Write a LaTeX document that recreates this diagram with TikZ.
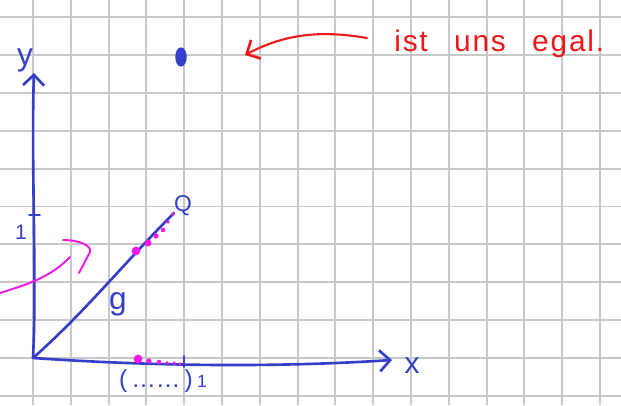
\documentclass[tikz,border=0pt]{standalone}
\usepackage{fontspec}
\setmainfont{Liberation Sans}
\newfontfamily\handfont[LetterSpace=6]{Liberation Sans}
\usetikzlibrary{arrows.meta, positioning, shapes.geometric}
\definecolor{penblue}{RGB}{52,62,200}
\definecolor{penred}{RGB}{238,24,24}
\definecolor{penpink}{RGB}{240,24,230}
\definecolor{gridgray}{RGB}{200,200,200}

\begin{document}
\begin{tikzpicture}[
  x=0.02cm, y=-0.02cm,
  gridline/.style={draw=gridgray, line width=1.1pt},
  pen/.style={draw=#1, line width=1.5pt, line cap=round, line join=round},
  hand/.style={text=#1, inner sep=0pt},
  barb/.style={-{Straight Barb[length=#1, width=12pt, line width=1.5pt]}},
  dot/.style={fill=penpink, circle, inner sep=0pt, minimum size=#1}
]
\useasboundingbox (0,0) rectangle (621,405);

% Grid paper
\foreach \k in {0,...,15}
  \draw[gridline] ({33+37.8*\k},0) -- ({33+37.8*\k},405);
\foreach \k in {0,...,10}
  \draw[gridline] (0,{17+37.9*\k}) -- (621,{17+37.9*\k});

% Axes
\coordinate (O) at (33,358);
\coordinate (xend) at (392,360);
\coordinate (yend) at (34,73);
\draw[pen=penblue, barb=6pt] (O) .. controls (180,368) and (300,366) .. (xend);
\draw[pen=penblue, barb=6pt] (O) .. controls (37,280) and (31,160) .. (yend);
\node[hand=penblue, font=\fontsize{18}{18}\selectfont] (ylab) at (25,60) {y};
\node[hand=penblue, font=\fontsize{17}{17}\selectfont] (xlab) at (412,366) {x};

% Ticks
\coordinate (ty1) at (29,215);
\coordinate (ty2) at (40,215);
\draw[pen=penblue, line width=1.1pt] (ty1) -- (ty2);
\node[hand=penblue, font=\fontsize{12}{12}\selectfont] (one y) at (21,232) {1};
\coordinate (tx1) at (184,356);
\coordinate (tx2) at (184,367);
\draw[pen=penblue, line width=1.1pt] (tx1) -- (tx2);
\node[hand=penblue, font=\fontsize{10}{10}\selectfont] (one x) at (202,381) {1};
\node[hand=penblue, font=\fontsize{14}{14}\selectfont] (interval) at (156,381) {(\,\dots\dots\,)};

% Line g and point Q
\node[hand=penblue, font=\fontsize{13}{13}\selectfont] (Q) at (183,206) {Q};
\coordinate (gend) at (174,213);
\draw[pen=penblue] (O) .. controls (85,312) and (125,262) .. (gend);
\node[hand=penblue, font=\fontsize{18}{18}\selectfont] (g) at (118,304) {g};

% Pink marks on g and on the x axis
\foreach \p/\s in {{(136,251)}/5pt, {(148,243)}/4pt, {(156,236)}/3pt, {(163,230)}/2.6pt, {(168,222)}/2.2pt, {(173,214)}/2pt}
  \node[dot=\s] at \p {};
\foreach \p/\s in {{(138,359)}/5pt, {(149,361)}/3pt, {(159,362)}/2.6pt, {(167,363)}/2.2pt, {(174,363)}/2pt, {(180,364)}/2pt}
  \node[dot=\s] at \p {};

% Pink stroke on the left
\coordinate (pa) at (0,293);
\coordinate (pb) at (70,257);
\draw[pen=penpink, line width=1.1pt] (pa) .. controls (25,285) and (50,278) .. (pb);
\coordinate (ha) at (63,240);
\coordinate (hb) at (90,252);
\coordinate (hc) at (79,273);
\draw[pen=penpink, line width=1.1pt] (ha) .. controls (80,240) and (92,246) .. (hb) -- (hc);

% Blue point and remark
\node[fill=penblue, ellipse, inner sep=0pt, minimum width=6.5pt, minimum height=11pt] (P) at (181,57) {};
\node[hand=penred, font=\handfont\fontsize{17}{17}\selectfont, anchor=base west] (note) at (394,52) {ist\hspace{15pt}uns\hspace{15pt}egal.};
\coordinate (rstart) at (367,38);
\coordinate (rtip) at (245,55);
\draw[pen=penred, line width=1.2pt, barb=6pt] (rstart) .. controls (320,30) and (285,34) .. (rtip);
\end{tikzpicture}
\end{document}
